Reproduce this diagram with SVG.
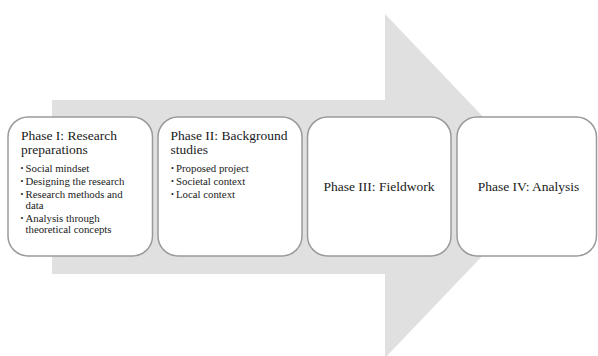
<svg xmlns="http://www.w3.org/2000/svg" width="598" height="356" viewBox="0 0 598 356">
<style>
.box{fill:#ffffff;stroke:#9a9a9a;stroke-width:1.5}
.t{font-family:"Liberation Serif","Times New Roman",serif;fill:#1a1a1a}
.h{font-size:13.5px}
.b{font-size:10.8px}
.d{font-size:8px}
.c{font-size:13.5px;text-anchor:middle}
</style>
<rect width="598" height="356" fill="#ffffff"/>
<g id="arrow">
<polygon points="52,100 385,100 385,14 549,186 385,358 385,274 52,274" fill="#e0e0e0"/>
</g>
<g id="connectors"></g>
<g id="phase1">
<rect class="box" x="8" y="117" width="144.5" height="139" rx="20"/>
<text class="t h" x="21" y="140">Phase I: Research</text>
<text class="t h" x="21" y="154">preparations</text>
<text class="t b" x="25.5" y="172">Social mindset</text>
<text class="t b" x="25.5" y="185">Designing the research</text>
<text class="t b" x="25.5" y="198">Research methods and</text>
<text class="t b" x="25.5" y="209">data</text>
<text class="t b" x="25.5" y="222">Analysis through</text>
<text class="t b" x="25.5" y="233">theoretical concepts</text>
<text class="t d" x="20.5" y="170.5">•</text>
<text class="t d" x="20.5" y="183.5">•</text>
<text class="t d" x="20.5" y="196.5">•</text>
<text class="t d" x="20.5" y="220.5">•</text>
</g>
<g id="phase2">
<rect class="box" x="158" y="117" width="144" height="139" rx="20"/>
<text class="t h" x="170.5" y="140">Phase II: Background</text>
<text class="t h" x="170.5" y="154">studies</text>
<text class="t b" x="176" y="172">Proposed project</text>
<text class="t b" x="176" y="185">Societal context</text>
<text class="t b" x="176" y="198">Local context</text>
<text class="t d" x="171" y="170.5">•</text>
<text class="t d" x="171" y="183.5">•</text>
<text class="t d" x="171" y="196.5">•</text>
</g>
<g id="phase3">
<rect class="box" x="307.5" y="117" width="143.5" height="139" rx="20"/>
<text class="t c" x="379" y="191">Phase III: Fieldwork</text>
</g>
<g id="phase4">
<rect class="box" x="457" y="117" width="139.5" height="139" rx="20"/>
<text class="t c" x="528.5" y="191">Phase IV: Analysis</text>
</g>
</svg>
